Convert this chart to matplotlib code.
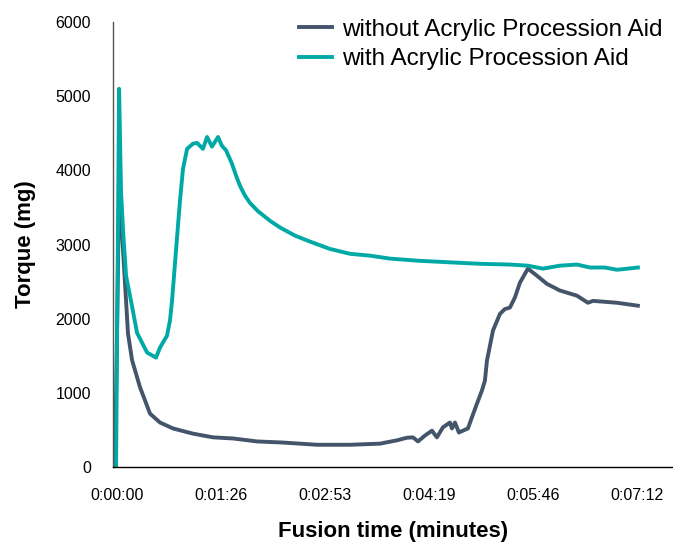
import matplotlib
import matplotlib.pyplot as plt
matplotlib.use('Agg')
plt.rcParams["font.family"] = ["Liberation Sans", "DejaVu Sans"]

# time in seconds, torque in mg
t_without = [-1.7, 1.7, 3.3, 5.0, 7.5, 9.1, 12.5, 19.1, 27.4, 35.7, 46.5, 63.1, 79.8, 96.4,
             116.3, 137.9, 166.2, 193.6, 218.5, 232.6, 240.9, 245.9, 250.1, 255.9, 261.7,
             265.8, 270.8, 276.6, 278.3, 280.8, 284.1, 287.4, 291.6, 294.9, 299.1, 303.2,
             305.7, 307.4, 312.4, 318.2, 322.3, 326.5, 330.6, 334.8, 341.4, 348.9, 357.2,
             368.0, 382.2, 391.3, 395.5, 415.4, 432.8]
torque_without = [0, 3700, 3390, 2920, 2240, 1800, 1440, 1075, 720, 600, 520, 450, 400, 385,
                  345, 330, 300, 300, 315, 360, 395, 400, 345, 425, 490,
                  400, 535, 600, 520, 600, 465, 490, 520, 670, 855, 1030,
                  1165, 1435, 1840, 2065, 2130, 2150, 2285, 2485, 2675, 2580, 2470,
                  2380, 2310, 2215, 2240, 2215, 2175]

t_with = [-0.8, 1.7, 3.3, 5.0, 7.5, 11.6, 16.6, 24.9, 32.4, 35.7, 41.5, 44.0, 45.7, 49.0,
          52.3, 54.8, 58.2, 63.1, 66.5, 71.4, 74.8, 78.9, 83.9, 87.2, 90.6, 95.5, 98.9,
          102.2, 106.3, 110.5, 117.1, 127.1, 135.4, 147.9, 160.3, 177.0, 193.6, 210.2,
          226.8, 251.7, 276.6, 301.6, 326.5, 341.4, 353.9, 368.0, 382.2, 393.0, 405.4,
          415.4, 424.5, 432.8]
torque_with = [0, 5100, 3720, 3190, 2580, 2240, 1810, 1545, 1475, 1610, 1770, 1975, 2240, 2920,
               3590, 4020, 4290, 4360, 4370, 4290, 4450, 4320, 4450, 4330, 4270, 4090, 3930,
               3790, 3660, 3560, 3450, 3320, 3230, 3120, 3040, 2940, 2875, 2850,
               2810, 2780, 2760, 2740, 2730, 2715, 2675, 2715, 2730, 2690, 2690,
               2660, 2675, 2690]

xticks = [0, 86.4, 172.8, 259.2, 345.6, 432]
xtick_labels = ['0:00:00', '0:01:26', '0:02:53', '0:04:19', '0:05:46', '0:07:12']
yticks = [0, 1000, 2000, 3000, 4000, 5000, 6000]

fig = plt.figure(figsize=(6.73, 5.44), dpi=100)
ax = fig.add_axes([0.168, 0.1415, 0.832, 0.818])

ax.plot(t_without, torque_without, color='#44546a', lw=2.8, label='without Acrylic Procession Aid')
ax.plot(t_with, torque_with, color='#00a9a5', lw=2.8, label='with Acrylic Procession Aid')

ax.set_xlim(-3.3, 462)
ax.set_ylim(0, 6000)
ax.set_xticks(xticks)
ax.set_xticklabels(xtick_labels)
ax.set_yticks(yticks)
ax.tick_params(length=0, labelsize=11.5)
ax.tick_params(axis='x', pad=15)
ax.tick_params(axis='y', pad=16)
for s in ['top', 'right']:
    ax.spines[s].set_visible(False)
ax.spines['left'].set_color('#555555')
ax.spines['left'].set_linewidth(1.0)
ax.spines['bottom'].set_linewidth(1.0)

ax.set_xlabel('Fusion time (minutes)', fontsize=16, fontweight='bold', labelpad=13)
ax.set_ylabel('Torque (mg)', fontsize=16, fontweight='bold', labelpad=14)

ax.legend(loc='upper right', bbox_to_anchor=(1.02, 1.056), frameon=False, fontsize=17.5,
          handlelength=1.35, handletextpad=0.4, labelspacing=0.3)

plt.savefig('out.png', dpi=100)
